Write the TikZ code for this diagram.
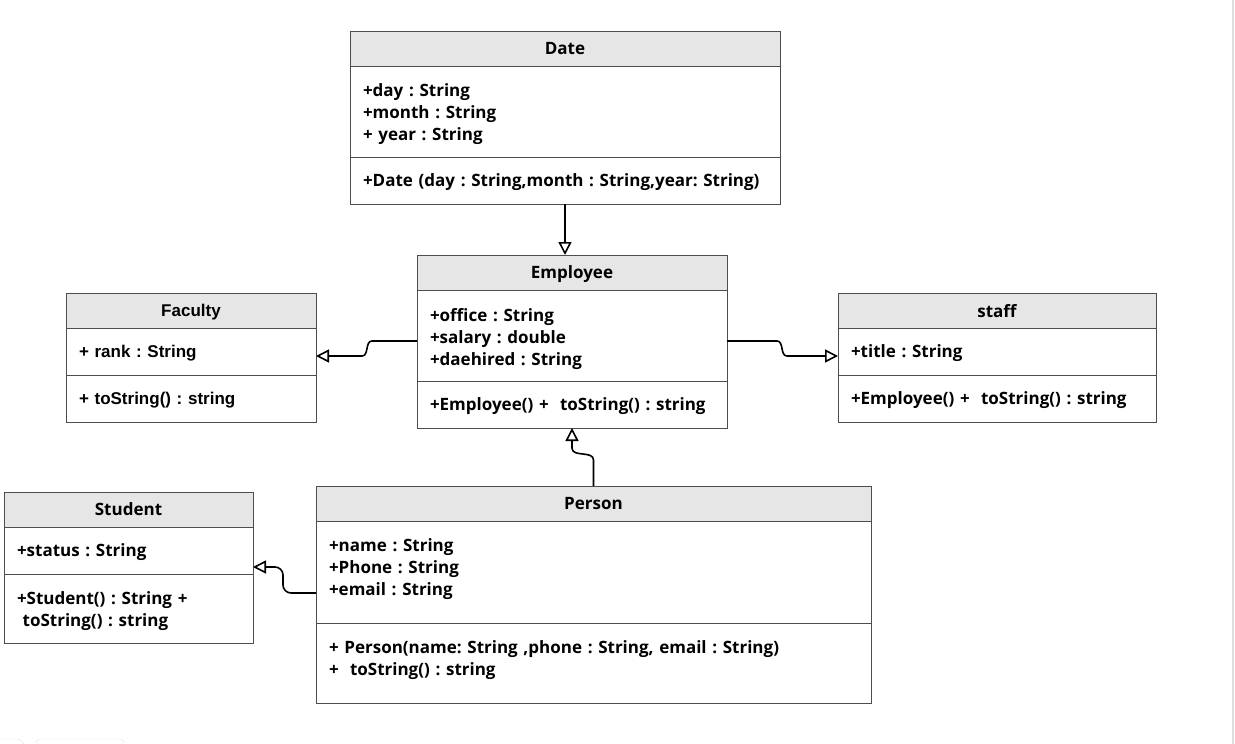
\documentclass[tikz,border=0pt]{standalone}
\usepackage{fontspec}
\setmainfont{Open Sans}
\newfontfamily\arialfont{Liberation Sans}
\usetikzlibrary{arrows.meta,positioning}
\frenchspacing

\definecolor{boxline}{HTML}{4D4D4D}
\definecolor{headgray}{HTML}{E6E6E6}
\definecolor{edgegray}{HTML}{DDDDDD}

\newcommand\umlfont{\fontsize{17}{22}\selectfont\bfseries}
\newcommand\facfont{\arialfont\fontsize{17}{22}\selectfont\bfseries}

\tikzset{
  umlhead/.style={draw=boxline, fill=headgray, line width=1pt, outer sep=0pt,
    inner sep=0pt, minimum height=35pt, anchor=north west, font=\umlfont, text depth=0pt},
  umlpart/.style={draw=boxline, line width=1pt, outer sep=0pt, inner xsep=13pt,
    inner ysep=0pt, align=left, font=\umlfont, text depth=0pt, below=0pt of #1, anchor=north west},
  inherit/.style={line width=1.6pt, -{Triangle[open,length=13pt,width=13pt]}},
}

\begin{document}
\begin{tikzpicture}[x=1pt,y=-1pt]
  \useasboundingbox (0,0) rectangle (1235,744);
  % screen edge and tabs
  \draw[edgegray, line width=2pt] (1233,0) -- (1233,744);
  \draw[edgegray, rounded corners=4pt] (0,739) -- (21,739) -- (25,746);
  \draw[edgegray, rounded corners=4pt] (36,746) -- (36,739) -- (124,739) -- (124,746);

  % Date
  \node[umlhead, minimum width=430pt] (datehead) at (350,31) {Date};
  \node[umlpart=datehead.south west, minimum width=430pt, text width=404pt, minimum height=91pt,
    text depth=42pt] (dateattr) {+day : String\\+month : String\\+ year : String};
  \node[umlpart=dateattr.south west, minimum width=430pt, text width=404pt, minimum height=47pt] (datemeth)
    {+Date (day : String,month : String,year: String)};

  % Employee
  \node[umlhead, minimum width=310pt] (emphead) at (417,255) {Employee};
  \node[umlpart=emphead.south west, minimum width=310pt, text width=284pt, minimum height=91pt,
    text depth=42pt] (empattr) {+office : String\\+salary : double\\+daehired : String};
  \node[umlpart=empattr.south west, minimum width=310pt, text width=284pt, minimum height=47pt] (empmeth)
    {+Employee() +~ toString() : string};

  % Faculty
  \node[umlhead, minimum width=250pt, font=\facfont] (fachead) at (66,293) {Faculty};
  \node[umlpart=fachead.south west, minimum width=250pt, text width=224pt, minimum height=47pt,
    font=\facfont] (facattr) {+ rank : String};
  \node[umlpart=facattr.south west, minimum width=250pt, text width=224pt, minimum height=47pt,
    font=\facfont] (facmeth) {+ toString() : string};

  % staff
  \node[umlhead, minimum width=318pt] (staffhead) at (838,293) {staff};
  \node[umlpart=staffhead.south west, minimum width=318pt, text width=292pt, minimum height=47pt] (staffattr)
    {+title : String};
  \node[umlpart=staffattr.south west, minimum width=318pt, text width=292pt, minimum height=47pt] (staffmeth)
    {+Employee() +~ toString() : string};

  % Student
  \node[umlhead, minimum width=249pt] (studhead) at (4,492) {Student};
  \node[umlpart=studhead.south west, minimum width=249pt, text width=223pt, minimum height=47pt] (studattr)
    {+status : String};
  \node[umlpart=studattr.south west, minimum width=249pt, text width=223pt, minimum height=69pt,
    text depth=20pt] (studmeth) {+Student() : String +\\\ toString() : string};

  % Person
  \node[umlhead, minimum width=555pt] (perhead) at (316,486) {Person};
  \node[umlpart=perhead.south west, minimum width=555pt, text width=529pt, minimum height=102pt,
    text depth=54pt] (perattr) {+name : String\\+Phone : String\\+email : String};
  \node[umlpart=perattr.south west, minimum width=555pt, text width=529pt, minimum height=80pt,
    text depth=31pt] (permeth)
    {+ Person(name: String ,phone : String, email : String)\\+~ toString() : string};

  % connectors
  \draw[inherit] (datemeth.south) -- (datemeth.south |- emphead.north);
  \draw[inherit] ([yshift=-5.5pt]empattr.west) -- ++(-45,0) to[out=180,in=0] ++(-10,15)
    -- ([yshift=-4.5pt]facattr.east);
  \draw[inherit] ([yshift=-5.5pt]empattr.east) -- ++(50,0) to[out=0,in=180] ++(10,15)
    -- ([yshift=-4.5pt]staffattr.west);
  \draw[inherit] (perhead.north) -- ++(0,-26) to[out=90,in=-90] ++(-21.5,-12) -- (empmeth.south);
  \draw[inherit, rounded corners=8pt] ([yshift=-21pt]perattr.west) -- ++(-33,0) |- ([yshift=-16.5pt]studattr.east);
\end{tikzpicture}
\end{document}
